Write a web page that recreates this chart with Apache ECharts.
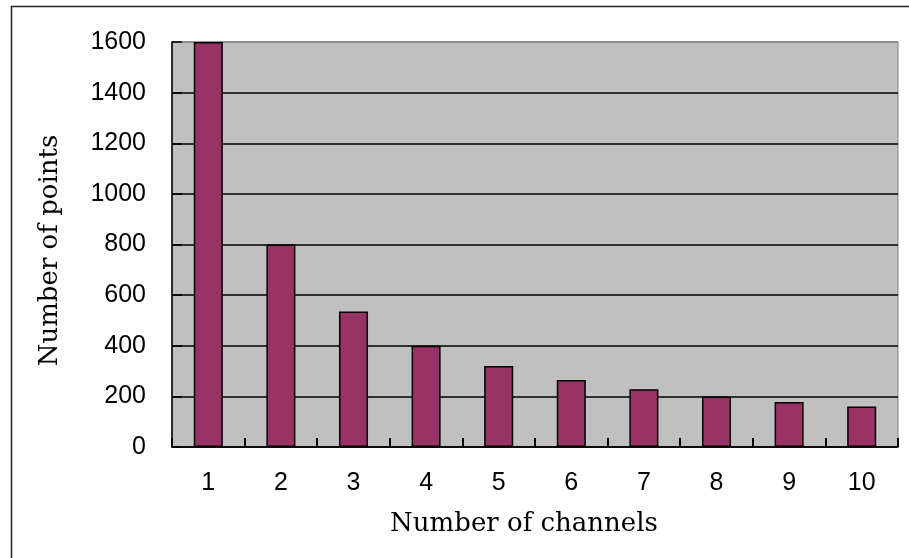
<!DOCTYPE html>
<html><head><meta charset="utf-8">
<script src="https://cdn.jsdelivr.net/npm/echarts@6/dist/echarts.min.js"></script>
<style>html,body{margin:0;padding:0;background:#fff}#c{width:909px;height:558px}</style>
</head><body><div id="c"></div>
<script>
const categories = ['1','2','3','4','5','6','7','8','9','10'];
const points = [1600, 800, 535, 400, 320, 265, 228, 200, 178, 160];
const yTicks = [0, 200, 400, 600, 800, 1000, 1200, 1400, 1600];

const chart = echarts.init(document.getElementById('c'));
chart.setOption({
  animation: false,
  graphic: [{
    type: 'rect', left: 9, top: 4, z: 100,
    shape: { width: 1000, height: 1000 },
    style: { fill: 'none', stroke: '#222', lineWidth: 1.5 }
  }],
  grid: { left: 172, right: 11, top: 42, bottom: 111, show: true,
          backgroundColor: '#C0C0C0', borderColor: '#808080', borderWidth: 1 },
  xAxis: {
    type: 'category', data: categories,
    name: 'Number of channels', nameLocation: 'middle', nameGap: 64,
    nameTextStyle: { fontFamily: 'DejaVu Serif', fontSize: 26, color: '#000', padding: [0, 22, 0, 0] },
    axisLine: { lineStyle: { color: '#000', width: 1.5 } },
    axisTick: { show: true, inside: true, length: 9, lineStyle: { color: '#000', width: 2 } },
    axisLabel: { fontFamily: 'Liberation Sans', fontSize: 25, color: '#000', margin: 24 },
    z: 5
  },
  yAxis: {
    type: 'value', min: 0, max: 1600, interval: 200,
    name: 'Number of points', nameLocation: 'middle', nameGap: 109,
    nameTextStyle: { fontFamily: 'DejaVu Serif', fontSize: 26, color: '#000', padding: [0, 12, 0, 0] },
    axisLine: { show: true, lineStyle: { color: '#000', width: 1.5 } },
    axisTick: { show: true, inside: true, length: 10, lineStyle: { color: '#000', width: 1.5 } },
    axisLabel: { fontFamily: 'Liberation Sans', fontSize: 25, color: '#000', margin: 26,
                 formatter: v => yTicks.includes(v) ? String(v) : '' },
    splitLine: { show: true, lineStyle: { color: ['#000','#000','#000','#000','#000','#000','#000','#000','#808080'], width: 1.5 } }
  },
  series: [{
    type: 'bar', data: points, barWidth: '40%',
    itemStyle: { color: '#993366', borderColor: '#000', borderWidth: 1.5 }
  }]
});
</script></body></html>
